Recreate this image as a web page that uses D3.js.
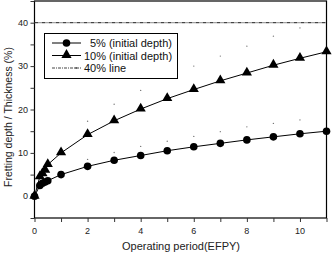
<!DOCTYPE html>
<html lang="en">
<head>
<meta charset="UTF-8">
<title>Fretting depth</title>
<script src="https://d3js.org/d3.v7.min.js"></script>
<style>
  body { margin: 0; background: #fff; }
  svg { display: block; font-family: "Liberation Sans", Arial, sans-serif; }
</style>
</head>
<body>
<svg id="chart" width="334" height="258"></svg>
<script>
// data
const years = [0, 0.2, 0.3, 0.4, 0.5, 1, 2, 3, 4, 5, 6, 7, 8, 9, 10, 11];
const depth5 = [0, 2.5, 3.0, 3.3, 3.6, 5.0, 6.9, 8.3, 9.4, 10.5, 11.4, 12.2, 13.0, 13.7, 14.4, 15.0];
const depth10 = [0, 4.5, 5.2, 6.0, 7.3, 10.0, 14.2, 17.4, 20.1, 22.5, 24.6, 26.6, 28.4, 30.2, 31.8, 33.3];
// faint stray dots above each curve
const dotYears = [2, 3, 4, 5, 6, 7, 8, 9, 10];
const dotsLow = [8.5, 10.1, 11.5, 12.7, 13.8, 14.9, 16.0, 16.8, 17.6];
const dotsHigh = [17.3, 21.2, 24.4, 27.4, 30.0, 32.3, 34.6, 36.9, 38.8];
const limitLine = 40;
const xTicks = [0, 2, 4, 6, 8, 10];
const yTicks = [0, 10, 20, 30, 40];

const svg = d3.select('#chart');
const x = d3.scaleLinear().domain([0, 11]).range([34.5, 326.5]);
const y = d3.scaleLinear().domain([-5, 45]).range([218, 1]);

// frame
svg.append('rect')
  .attr('x', x(0)).attr('y', y(45))
  .attr('width', x(11) - x(0)).attr('height', y(-5) - y(45))
  .attr('fill', 'none').attr('stroke', '#000').attr('stroke-width', 1.2);

// x axis
const xAxis = svg.append('g').attr('transform', `translate(0,${y(-5)})`);
xAxis.call(d3.axisBottom(x).tickValues(d3.range(0, 12, 1)).tickSize(4).tickFormat(''))
  .call(g => g.select('.domain').remove());
xAxis.selectAll('.tick line').attr('stroke', '#333');
svg.append('g').selectAll('text').data(xTicks).join('text')
  .attr('x', d => x(d)).attr('y', 234)
  .attr('text-anchor', 'middle').attr('font-size', 9).attr('fill', '#222')
  .text(d => d);

// y axis
const yAxis = svg.append('g').attr('transform', `translate(${x(0)},0)`);
yAxis.call(d3.axisLeft(y).tickValues(d3.range(-5, 50, 5)).tickSize(4).tickFormat(''))
  .call(g => g.select('.domain').remove());
yAxis.selectAll('.tick line').attr('stroke', '#333');
svg.append('g').selectAll('text').data(yTicks).join('text')
  .attr('x', 28).attr('y', d => y(d) + 3)
  .attr('text-anchor', 'end').attr('font-size', 9).attr('fill', '#222')
  .text(d => d);

// axis titles
svg.append('text')
  .attr('x', 181).attr('y', 250)
  .attr('text-anchor', 'middle').attr('font-size', 11).attr('fill', '#222')
  .text('Operating period(EFPY)');
svg.append('text')
  .attr('transform', `translate(12,117) rotate(-90)`)
  .attr('text-anchor', 'middle').attr('font-size', 10.5).attr('fill', '#222')
  .text('Fretting depth / Thickness (%)');

// 40% line
svg.append('line')
  .attr('x1', x(0)).attr('x2', x(11))
  .attr('y1', y(limitLine)).attr('y2', y(limitLine))
  .attr('stroke', '#444').attr('stroke-width', 1.2)
  .attr('stroke-dasharray', '4,1,1,1');

// faint dots
[dotsLow, dotsHigh].forEach(vals => {
  svg.append('g').selectAll('circle').data(vals).join('circle')
    .attr('cx', (d, i) => x(dotYears[i])).attr('cy', d => y(d))
    .attr('r', 0.7).attr('fill', '#777');
});

const line = d3.line().x(d => x(d[0])).y(d => y(d[1]));
const tri = d3.symbol().type(d3.symbolTriangle).size(45);

function drawSeries(vals, marker) {
  const pts = years.map((t, i) => [t, vals[i]]);
  svg.append('path').datum(pts)
    .attr('d', line).attr('fill', 'none').attr('stroke', '#000').attr('stroke-width', 1);
  const g = svg.append('g');
  if (marker === 'circle') {
    g.selectAll('circle').data(pts).join('circle')
      .attr('cx', d => x(d[0])).attr('cy', d => y(d[1])).attr('r', 3.8).attr('fill', '#000');
  } else {
    g.selectAll('path').data(pts).join('path')
      .attr('d', tri).attr('transform', d => `translate(${x(d[0])},${y(d[1]) - 0.5})`)
      .attr('fill', '#000');
  }
}
drawSeries(depth5, 'circle');
drawSeries(depth10, 'triangle');

// legend
const leg = svg.append('g');
leg.append('rect').attr('x', 44.5).attr('y', 33.5).attr('width', 133).attr('height', 45)
  .attr('fill', '#fff').attr('stroke', '#000').attr('stroke-width', 1);
const rows = [
  { label: '5% (initial depth)', type: 'circle', y: 43, tx: 90 },
  { label: '10% (initial depth)', type: 'triangle', y: 55.5, tx: 84 },
  { label: '40% line', type: 'dash', y: 68, tx: 84 }
];
rows.forEach(r => {
  const l = leg.append('line').attr('x1', 52).attr('x2', 81).attr('y1', r.y).attr('y2', r.y)
    .attr('stroke', r.type === 'dash' ? '#444' : '#000').attr('stroke-width', 1);
  if (r.type === 'dash') l.attr('stroke-dasharray', '3,1,1,1');
  if (r.type === 'circle') leg.append('circle').attr('cx', 66.5).attr('cy', r.y).attr('r', 3.8).attr('fill', '#000');
  if (r.type === 'triangle') leg.append('path').attr('d', tri).attr('transform', `translate(66.5,${r.y - 0.5})`).attr('fill', '#000');
  if (r.type === 'dash') leg.append('circle').attr('cx', 76).attr('cy', r.y).attr('r', 0.9).attr('fill', '#444');
  leg.append('text').attr('x', r.tx).attr('y', r.y + 4)
    .attr('font-size', 11).attr('fill', '#111').text(r.label);
});
</script>
</body>
</html>
